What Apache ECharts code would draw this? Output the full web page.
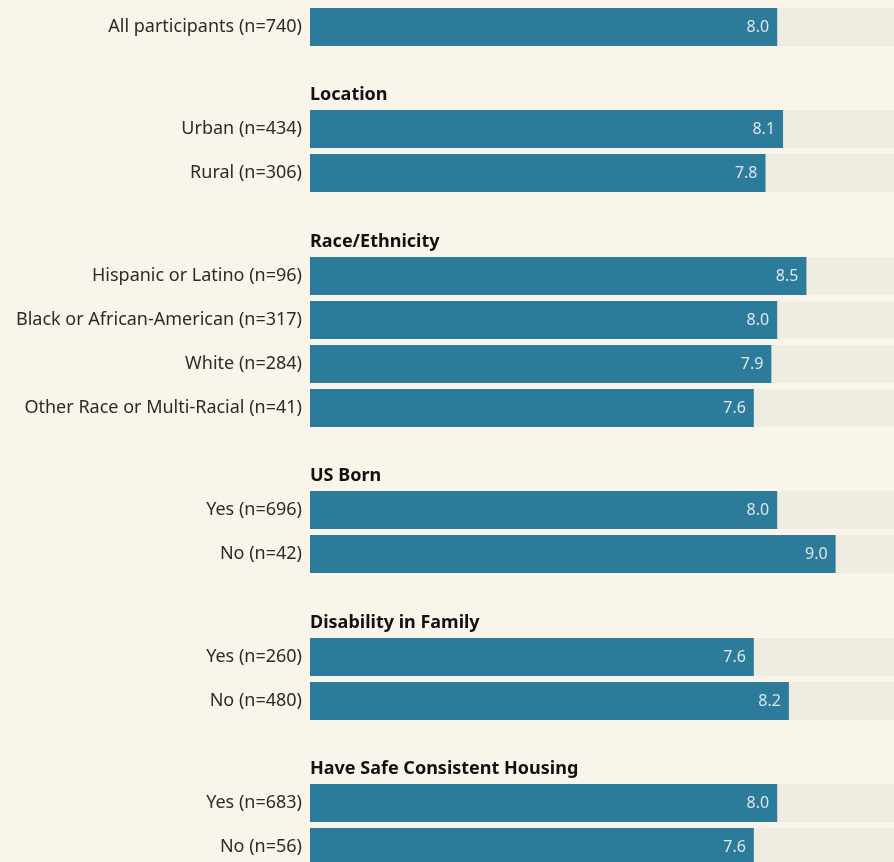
<!DOCTYPE html>
<html>
<head>
<meta charset="utf-8">
<script src="https://cdn.jsdelivr.net/npm/echarts@6/dist/echarts.min.js"></script>
<style>
  html, body { margin: 0; padding: 0; background: #f9f5eb; overflow: hidden; }
  /* canvas is a little taller than the window so the last section runs off the bottom */
  #chart { width: 894px; height: 900px; }
</style>
</head>
<body>
<div id="chart"></div>
<script>
// Section headings (empty for the overall row)
const groupTitles = ['', 'Location', 'Race/Ethnicity', 'US Born', 'Disability in Family', 'Have Safe Consistent Housing'];

// Row labels per section
const allLabels = ['All participants (n=740)'];
const locationLabels = ['Urban (n=434)', 'Rural (n=306)'];
const raceLabels = ['Hispanic or Latino (n=96)', 'Black or African-American (n=317)', 'White (n=284)', 'Other Race or Multi-Racial (n=41)'];
const bornLabels = ['Yes (n=696)', 'No (n=42)'];
const disabilityLabels = ['Yes (n=260)', 'No (n=480)'];
const housingLabels = ['Yes (n=683)', 'No (n=56)'];

// Average scores per section
const allValues = [8.0];
const locationValues = [8.1, 7.8];
const raceValues = [8.5, 8.0, 7.9, 7.6];
const bornValues = [8.0, 9.0];
const disabilityValues = [7.6, 8.2];
const housingValues = [8.0, 7.6];

const scaleMax = 10;

const groupLabels = [allLabels, locationLabels, raceLabels, bornLabels, disabilityLabels, housingLabels];
const groupValues = [allValues, locationValues, raceValues, bornValues, disabilityValues, housingValues];

// Layout: each row is 44px tall, sections separated by a heading gap
const rowStep = 44;
const gridTops = [5, 107, 254, 488, 635, 781];

const FONT = '"Noto Sans", "Open Sans", sans-serif';
const BAR = '#2c7b9a';

const grids = [], xAxes = [], yAxes = [], series = [], graphics = [];

groupLabels.forEach((labels, i) => {
  const top = gridTops[i];
  grids.push({ left: 310, right: 0, top: top, height: labels.length * rowStep, containLabel: false });
  xAxes.push({
    type: 'value', gridIndex: i, min: 0, max: scaleMax, show: false
  });
  yAxes.push({
    type: 'category', gridIndex: i, data: labels, inverse: true,
    axisLine: { show: false }, axisTick: { show: false }, splitLine: { show: false },
    axisLabel: { color: '#2b2b2b', fontSize: 18, fontFamily: FONT, margin: 8, padding: [3, 0, 0, 0] }
  });
  series.push({
    type: 'bar', xAxisIndex: i, yAxisIndex: i, data: groupValues[i],
    barWidth: 38,
    itemStyle: { color: BAR },
    showBackground: true,
    backgroundStyle: { color: '#efece2' },
    label: {
      show: true, position: 'insideRight', distance: 8,
      color: '#dbe7ea', fontSize: 16, fontFamily: FONT,
      formatter: p => p.value.toFixed(1)
    },
    silent: true,
    animation: false
  });
  if (groupTitles[i]) {
    graphics.push({
      type: 'text',
      style: {
        text: groupTitles[i], x: 310, y: top - 12,
        verticalAlign: 'middle', fill: '#111111',
        font: 'bold 18px ' + FONT
      }
    });
  }
});

const chart = echarts.init(document.getElementById('chart'), null, { renderer: 'canvas' });
chart.setOption({
  backgroundColor: '#f9f5eb',
  animation: false,
  grid: grids,
  xAxis: xAxes,
  yAxis: yAxes,
  series: series,
  graphic: graphics
});
</script>
</body>
</html>
